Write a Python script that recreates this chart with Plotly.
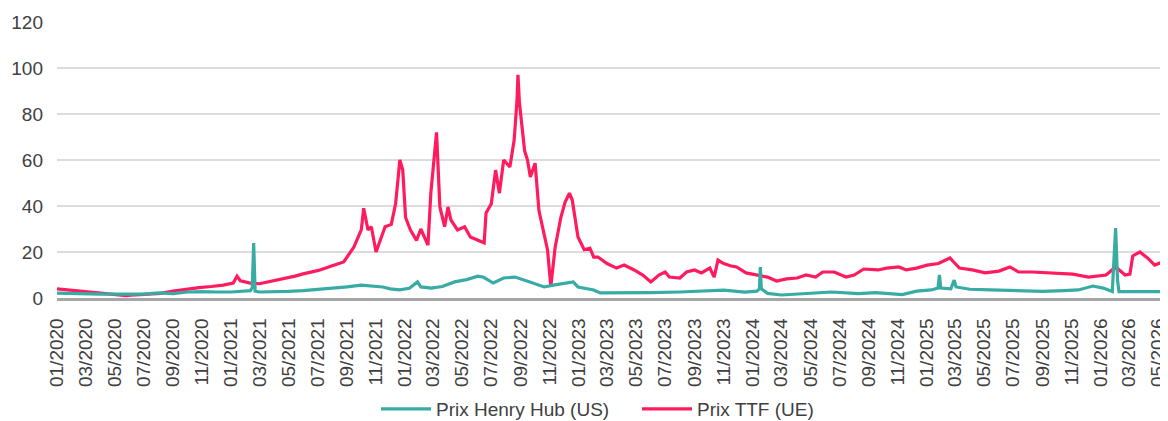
import plotly.graph_objects as go
import pandas as pd

# ---- Data ----
ttf_dates = [
    "2020-01-01", "2020-02-01", "2020-03-01", "2020-04-01", "2020-05-01", "2020-05-25",
    "2020-06-15", "2020-07-15", "2020-08-05", "2020-09-01", "2020-10-01", "2020-10-25",
    "2020-11-20", "2020-12-15", "2021-01-05", "2021-01-13", "2021-01-20", "2021-02-10",
    "2021-03-01", "2021-04-01", "2021-05-01", "2021-05-15", "2021-06-01", "2021-07-03",
    "2021-08-01", "2021-08-25", "2021-09-15", "2021-10-01", "2021-10-06", "2021-10-15",
    "2021-10-22", "2021-11-01", "2021-11-20", "2021-12-03", "2021-12-12", "2021-12-21",
    "2021-12-27", "2022-01-02", "2022-01-12", "2022-01-25", "2022-02-03", "2022-02-18",
    "2022-02-24", "2022-03-08", "2022-03-15", "2022-03-25", "2022-04-01", "2022-04-07",
    "2022-04-21", "2022-05-06", "2022-05-18", "2022-06-03", "2022-06-16", "2022-06-20",
    "2022-07-01", "2022-07-10", "2022-07-18", "2022-07-27", "2022-08-09", "2022-08-18",
    "2022-08-24", "2022-08-26", "2022-08-29", "2022-09-09", "2022-09-15", "2022-09-21",
    "2022-10-01", "2022-10-09", "2022-10-20", "2022-10-27", "2022-11-03", "2022-11-12",
    "2022-11-24", "2022-12-03", "2022-12-12", "2022-12-18", "2022-12-30", "2023-01-12",
    "2023-01-24", "2023-02-01", "2023-02-10", "2023-03-01", "2023-03-21", "2023-04-06",
    "2023-04-27", "2023-05-15", "2023-06-01", "2023-06-18", "2023-07-01", "2023-07-10",
    "2023-08-01", "2023-08-15", "2023-09-01", "2023-09-15", "2023-10-03", "2023-10-12",
    "2023-10-20", "2023-11-01", "2023-11-15", "2023-11-28", "2023-12-18", "2024-01-10",
    "2024-02-01", "2024-02-20", "2024-03-12", "2024-04-03", "2024-04-22", "2024-05-12",
    "2024-05-27", "2024-06-20", "2024-07-15", "2024-08-01", "2024-08-21", "2024-09-20",
    "2024-10-08", "2024-11-03", "2024-11-18", "2024-12-10", "2025-01-01", "2025-01-25",
    "2025-02-18", "2025-03-10", "2025-04-06", "2025-05-03", "2025-06-01", "2025-06-24",
    "2025-07-12", "2025-08-10", "2025-09-21", "2025-11-03", "2025-12-06", "2026-01-12",
    "2026-02-01", "2026-02-21", "2026-03-03", "2026-03-09", "2026-03-24", "2026-04-09",
    "2026-04-24", "2026-05-11", "2026-05-22",
]
ttf_values = [
    4.0, 3.3, 2.8, 2.2, 1.6, 1.0,
    1.4, 1.8, 2.0, 3.0, 4.0, 4.5,
    5.0, 5.6, 6.5, 9.5, 7.5, 6.5,
    6.2, 7.5, 8.7, 9.5, 10.5, 12.0,
    14.0, 15.7, 22.0, 29.6, 39.0, 29.6,
    31.0, 20.0, 31.0, 32.0, 41.0, 60.0,
    55.7, 35.0, 29.6, 25.0, 30.0, 23.0,
    45.6, 72.0, 39.6, 31.0, 39.6, 34.0,
    29.6, 31.0, 26.5, 25.0, 24.0, 37.0,
    41.0, 55.6, 45.6, 60.0, 57.0, 68.7,
    86.0, 97.0, 85.0, 64.0, 60.0, 52.6,
    58.6, 38.0, 28.0, 21.0, 5.0, 22.0,
    35.0, 41.7, 45.6, 42.6, 26.5, 21.0,
    21.7, 17.8, 17.8, 15.0, 13.0, 14.3,
    12.2, 10.0, 7.0, 10.0, 11.3, 9.1,
    8.7, 11.3, 12.2, 10.9, 13.0, 9.1,
    16.5, 15.0, 14.0, 13.5, 10.9, 10.0,
    9.1, 7.4, 8.3, 8.7, 10.0, 9.1,
    11.3, 11.3, 9.1, 10.0, 12.6, 12.2,
    13.0, 13.5, 12.2, 13.0, 14.3, 15.0,
    17.4, 13.0, 12.2, 10.9, 11.7, 13.5,
    11.3, 11.3, 10.9, 10.4, 9.1, 10.0,
    13.5, 10.0, 10.4, 18.3, 20.0, 17.4,
    14.3, 15.7, 15.7,
]

hh_dates = [
    "2020-01-01", "2020-02-01", "2020-03-01", "2020-04-01", "2020-05-01", "2020-06-01",
    "2020-07-01", "2020-08-01", "2020-09-01", "2020-10-01", "2020-11-01", "2020-12-01",
    "2021-01-01", "2021-02-10", "2021-02-14", "2021-02-17", "2021-02-20", "2021-03-01",
    "2021-04-01", "2021-05-01", "2021-06-01", "2021-07-01", "2021-08-01", "2021-09-01",
    "2021-10-01", "2021-10-20", "2021-11-15", "2021-12-01", "2021-12-20", "2022-01-10",
    "2022-01-27", "2022-02-03", "2022-02-25", "2022-03-20", "2022-04-15", "2022-05-10",
    "2022-06-03", "2022-06-15", "2022-07-05", "2022-07-27", "2022-08-20", "2022-09-20",
    "2022-10-20", "2022-11-08", "2022-12-01", "2022-12-20", "2022-12-30", "2023-02-01",
    "2023-02-15", "2023-04-01", "2023-06-01", "2023-08-01", "2023-10-01", "2023-11-01",
    "2023-12-15", "2024-01-10", "2024-01-15", "2024-01-17", "2024-01-19", "2024-02-01",
    "2024-03-01", "2024-04-01", "2024-05-15", "2024-06-15", "2024-08-10", "2024-09-15",
    "2024-11-10", "2024-12-10", "2025-01-10", "2025-01-24", "2025-01-27", "2025-01-30",
    "2025-02-20", "2025-02-27", "2025-03-03", "2025-04-01", "2025-05-15", "2025-07-01",
    "2025-09-01", "2025-10-15", "2025-11-15", "2025-12-15", "2026-01-06", "2026-01-25",
    "2026-02-01", "2026-02-05", "2026-02-08", "2026-03-15", "2026-05-22",
]
hh_values = [
    2.1, 1.9, 1.8, 1.7, 1.7, 1.6,
    1.7, 2.2, 1.9, 2.6, 2.8, 2.6,
    2.6, 3.2, 4.5, 23.9, 3.0, 2.6,
    2.6, 2.9, 3.2, 3.7, 4.0, 4.8,
    5.6, 5.2, 4.8, 4.0, 3.5, 4.2,
    7.0, 4.8, 4.3, 5.0, 7.0, 8.0,
    9.5, 9.0, 6.5, 8.7, 9.1, 7.0,
    4.8, 5.6, 6.5, 7.0, 4.8, 3.5,
    2.2, 2.2, 2.3, 2.6, 3.0, 3.4,
    2.6, 3.0, 4.0, 13.5, 4.0, 2.0,
    1.3, 1.6, 2.2, 2.6, 1.9, 2.3,
    1.5, 3.0, 3.5, 4.3, 10.0, 4.3,
    4.0, 7.8, 4.8, 3.8, 3.5, 3.3,
    2.9, 3.2, 3.5, 5.2, 4.3, 2.8,
    30.4, 7.8, 2.8, 2.8, 2.8,
]

series_names = ["Prix Henry Hub (US)", "Prix TTF (UE)"]
tick_dates = pd.date_range("2020-01-01", "2026-05-01", freq="2MS")
tick_labels = [d.strftime("%m/%Y") for d in tick_dates]

TEAL = "#38ACA4"
PINK = "#FF1B5E"
FONT = "Liberation Sans, Arial, sans-serif"

fig = go.Figure()
fig.add_trace(go.Scatter(
    x=pd.to_datetime(ttf_dates), y=ttf_values, name=series_names[1], mode="lines",
    line=dict(color=PINK, width=3.2), legendrank=2,
))
fig.add_trace(go.Scatter(
    x=pd.to_datetime(hh_dates), y=hh_values, name=series_names[0], mode="lines",
    line=dict(color=TEAL, width=3.2), legendrank=1,
))

# page body has an 8px margin: figure sized so it ends at the window edges
W, H = 1160, 413
fig.update_layout(
    width=W, height=H,
    margin=dict(l=49, r=0, t=14, b=123, autoexpand=False),
    paper_bgcolor="white", plot_bgcolor="white",
    font=dict(family=FONT, size=19, color="#404040"),
    showlegend=True,
    legend=dict(
        orientation="h", xref="container", yref="container",
        x=(376 - 8) / W, xanchor="left", y=1 - (409 - 8) / H, yanchor="middle",
        font=dict(size=19, color="#404040"), itemwidth=50, entrywidth=196,
        bgcolor="rgba(0,0,0,0)",
    ),
    xaxis=dict(
        type="date",
        range=["2020-01-01", "2026-05-22"],
        tickmode="array", tickvals=tick_dates, ticktext=tick_labels,
        tickangle=-90, ticks="", ticklabelstandoff=10,
        ticklabeloverflow="allow",
        showgrid=False, zeroline=False,
        showline=True, linecolor="#A6A6A6", linewidth=2.5,
        tickfont=dict(size=19, color="#404040"),
    ),
    yaxis=dict(
        range=[0, 120], dtick=20, tick0=0,
        showgrid=True, gridcolor="#DCDCDC", gridwidth=1.5,
        zeroline=False, ticks="", ticklabelstandoff=13,
        tickfont=dict(size=19, color="#404040"),
    ),
)

fig.write_html("out.html")
